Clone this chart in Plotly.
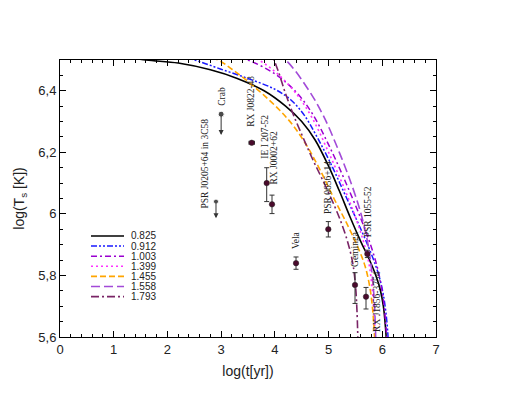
import plotly.graph_objects as go

# ---------------- data ----------------
model_names = ["0.825", "0.912", "1.003", "1.399", "1.455", "1.558", "1.793"]

x_0825 = [0, 1.0, 1.6, 2.2, 2.8, 3.3, 3.8, 4.2, 4.5, 4.75, 5.0, 5.2, 5.4, 5.6, 5.75, 5.88, 5.96, 6.02, 6.06, 6.09]
y_0825 = [6.53, 6.515, 6.50, 6.49, 6.468, 6.44, 6.40, 6.35, 6.30, 6.24, 6.155, 6.075, 5.99, 5.91, 5.855, 5.80, 5.755, 5.70, 5.63, 5.55]

x_0912 = [0, 2.0, 2.5, 3.0, 3.5, 4.0, 4.3, 4.55, 4.8, 5.05, 5.3, 5.55, 5.75, 5.9, 6.0, 6.06, 6.1, 6.12]
y_0912 = [6.56, 6.52, 6.50, 6.47, 6.44, 6.405, 6.37, 6.32, 6.245, 6.16, 6.065, 5.97, 5.89, 5.82, 5.755, 5.69, 5.62, 5.55]

x_1003 = [0, 3.0, 3.5, 4.0, 4.4, 4.7, 5.0, 5.3, 5.6, 5.8, 5.93, 6.02, 6.07, 6.1]
y_1003 = [6.6, 6.53, 6.50, 6.455, 6.395, 6.325, 6.225, 6.11, 5.985, 5.89, 5.81, 5.72, 5.63, 5.55]

x_1399 = [0, 3.2, 3.7, 4.05, 4.4, 4.7, 5.0, 5.3, 5.5, 5.65, 5.75, 5.81, 5.85, 5.87]
y_1399 = [6.6, 6.54, 6.50, 6.455, 6.39, 6.31, 6.20, 6.08, 5.99, 5.91, 5.84, 5.76, 5.67, 5.57]

x_1455 = [0, 2.5, 2.94, 3.2, 3.5, 3.8, 4.1, 4.35, 4.6, 4.85, 5.1, 5.35, 5.55, 5.68, 5.77, 5.82, 5.85, 5.87]
y_1455 = [6.56, 6.52, 6.50, 6.47, 6.43, 6.385, 6.335, 6.285, 6.22, 6.14, 6.05, 5.965, 5.89, 5.83, 5.76, 5.69, 5.62, 5.55]

x_1558 = [0, 3.8, 4.2, 4.6, 4.9, 5.2, 5.45, 5.62, 5.73, 5.8, 5.85, 5.88]
y_1558 = [6.62, 6.545, 6.50, 6.41, 6.32, 6.20, 6.085, 5.99, 5.905, 5.82, 5.72, 5.58]

x_1793 = [0, 3.5, 3.9, 4.05, 4.2, 4.35, 4.52, 4.71, 4.89, 5.1, 5.25, 5.37, 5.45, 5.5, 5.53, 5.55]
y_1793 = [6.7, 6.62, 6.53, 6.47, 6.39, 6.32, 6.25, 6.175, 6.11, 6.03, 5.965, 5.9, 5.84, 5.77, 5.68, 5.56]

# observed sources with error bars
obs_names = ["RX J0822-43", "IE I 207-52", "RX J0002+62", "Vela", "PSR 0656+14",
             "Geminga", "PSR 1055-52", "RX J1856-3754"]
obs_x = [3.569, 3.848, 3.947, 4.394, 4.995, 5.492, 5.722, 5.697]
obs_y = [6.231, 6.10, 6.031, 5.84, 5.95, 5.769, 5.87, 5.731]
obs_err_plus = [0.0, 0.05, 0.03, 0.02, 0.025, 0.04, 0.012, 0.03]
obs_err_minus = [0.0, 0.06, 0.03, 0.02, 0.025, 0.06, 0.012, 0.04]
obs_xerr = [0.05, 0, 0, 0, 0, 0, 0, 0]

# upper limits
lim_names = ["Crab", "PSR J0205+64 in 3C58"]
lim_x = [3.0, 2.904]
lim_y = [6.324, 6.04]
lim_y_end = [6.256, 5.986]

# label positions (data coords)
lab_names = ["Crab", "PSR J0205+64 in 3C58", "RX J0822-43", "IE I 207-52", "RX J0002+62",
             "Vela", "PSR 0656+14", "Geminga", "PSR 1055-52", "RX J1856-3754"]
lab_x = [3.0, 2.709, 3.556, 3.817, 3.984, 4.394, 4.99, 5.492, 5.734, 5.902]
lab_y = [6.381, 6.162, 6.364, 6.251, 6.18, 5.915, 6.084, 5.886, 6.005, 5.714]

# ---------------- styles ----------------
curves = [
    (x_0825, y_0825, "#000000", "solid", 1.6),
    (x_0912, y_0912, "#1a1aff", "6px,2px,2px,2px,2px,2px", 1.5),
    (x_1003, y_1003, "#9a00d0", "6px,3px,2px,3px", 1.5),
    (x_1399, y_1399, "#ff33ff", "2px,3px", 1.6),
    (x_1455, y_1455, "#ffa500", "6px,3px", 1.6),
    (x_1558, y_1558, "#a24ad8", "9px,4px", 1.6),
    (x_1793, y_1793, "#7a2466", "8px,3px,2px,3px", 1.6),
]

fig = go.Figure()
for (xs, ys, col, dash, w), nm in zip(curves, model_names):
    fig.add_trace(go.Scatter(x=xs, y=ys, mode="lines", name=nm,
                             line=dict(color=col, dash=dash, width=w, shape="spline", smoothing=1.0),
                             showlegend=False))

fig.add_trace(go.Scatter(
    x=obs_x, y=obs_y, mode="markers",
    marker=dict(color="#4a0a2c", size=5.5, line=dict(color="#222", width=0.5)),
    error_y=dict(type="data", symmetric=False, array=obs_err_plus, arrayminus=obs_err_minus,
                 color="#333", thickness=1, width=2.5),
    error_x=dict(type="data", array=obs_xerr, color="#333", thickness=1, width=2),
    showlegend=False))

fig.add_trace(go.Scatter(
    x=lim_x, y=lim_y, mode="markers",
    marker=dict(color="black", size=[6, 5]), showlegend=False))

for xx, y0, y1 in zip(lim_x, lim_y, lim_y_end):
    fig.add_annotation(x=xx, y=y1, ax=xx, ay=y0, xref="x", yref="y", axref="x", ayref="y",
                       showarrow=True, arrowhead=2, arrowsize=1, arrowwidth=1, arrowcolor="#333", text="")

for t, xx, yy in zip(lab_names, lab_x, lab_y):
    fig.add_annotation(x=xx, y=yy, xref="x", yref="y", text=t, showarrow=False, textangle=-90,
                       xanchor="center", yanchor="middle",
                       font=dict(family="Liberation Serif, Times New Roman, serif", size=9.5, color="#222"))

# manual legend (paper coords)
for i, ((xs, ys, col, dash, w), nm) in enumerate(zip(curves, model_names)):
    py = 228 + 10.1 * i
    yp = (329 - py) / 277
    fig.add_shape(type="line", xref="paper", yref="paper", x0=(83 - 52) / 376, x1=(116 - 52) / 376,
                  y0=yp, y1=yp, line=dict(color=col, dash=dash, width=w))
    fig.add_annotation(x=(121 - 52) / 376, y=yp, xref="paper", yref="paper", text=nm, showarrow=False,
                       xanchor="left", yanchor="middle",
                       font=dict(family="Liberation Sans, Arial, sans-serif", size=10, color="#222"))

axis_common = dict(showline=True, linecolor="black", linewidth=1, mirror="allticks",
                   ticks="inside", tickcolor="black", showgrid=False, zeroline=False,
                   tickfont=dict(family="Liberation Sans, Arial, sans-serif", size=13, color="#222"))

fig.update_xaxes(range=[0, 7], dtick=1, tick0=0, ticklen=6,
                 minor=dict(dtick=0.2, ticks="inside", ticklen=3, tickcolor="black"),
                 title=dict(text="log(t[yr])", font=dict(family="Liberation Sans, Arial, sans-serif", size=14, color="#222"), standoff=10),
                 **axis_common)
fig.update_yaxes(range=[5.6, 6.5], dtick=0.2, tick0=5.6, ticklen=6,
                 minor=dict(dtick=0.05, ticks="inside", ticklen=3, tickcolor="black"),
                 title=dict(text="log(T<sub>s</sub> [K])", font=dict(family="Liberation Sans, Arial, sans-serif", size=14, color="#222"), standoff=10),
                 **axis_common)

fig.update_layout(width=510, height=389, margin=dict(l=52, r=82, t=52, b=60),
                  plot_bgcolor="white", paper_bgcolor="white", separators=",.")

fig.write_html("out.html")
